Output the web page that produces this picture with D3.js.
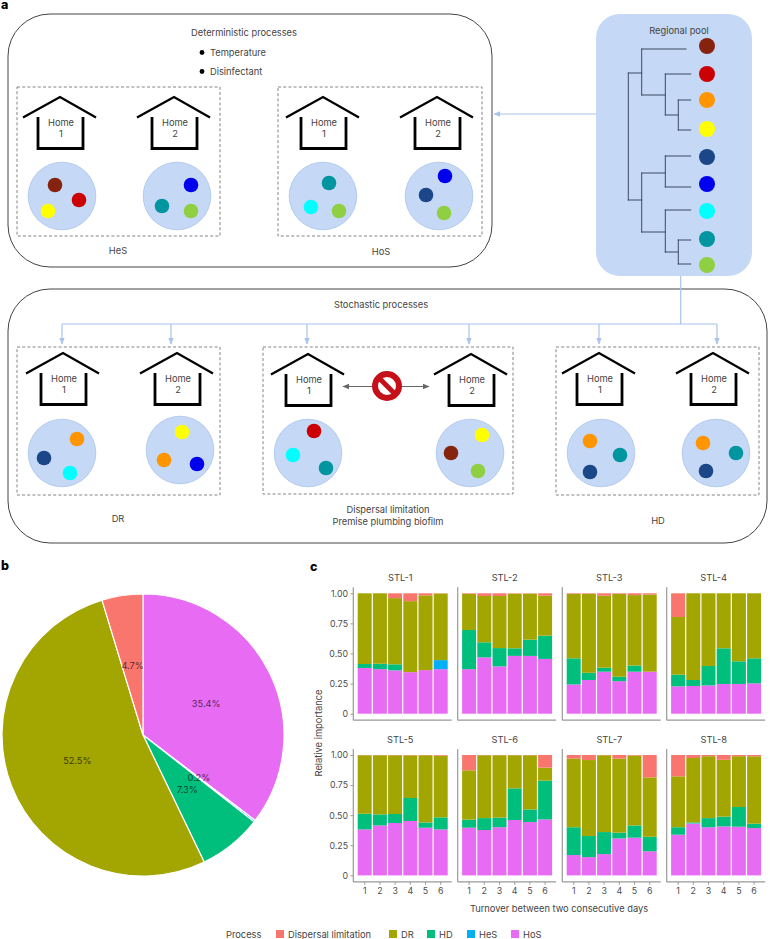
<!DOCTYPE html>
<html>
<head>
<meta charset="utf-8">
<script src="https://cdn.jsdelivr.net/npm/d3@7/dist/d3.min.js"></script>
<style>
html,body{margin:0;padding:0;background:#fff}
svg{display:block}
text{font-family:Inter,"Noto Sans",sans-serif}
</style>
</head>
<body>
<svg id="c" width="770" height="939"></svg>
<script>
// ---------- data ----------
const processes = ["Dispersal limitation","DR","HD","HeS","HoS"];
const processColors = ["#F8766D","#A3A500","#00BF7D","#00B0F6","#E76BF3"];
const pieOrder = ["HoS","HeS","HD","DR","Dispersal limitation"];
const pieValues = [35.4,0.2,7.3,52.5,4.7];
const panels = ["STL-1","STL-2","STL-3","STL-4","STL-5","STL-6","STL-7","STL-8"];
const days = ["1","2","3","4","5","6"];
const yTickValues = [0,0.25,0.5,0.75,1];
const yTickLabels = ["0","0.25","0.50","0.75","1.00"];
const hos = [
 [.38,.37,.36,.345,.362,.37],[.37,.468,.393,.48,.48,.455],
 [.243,.28,.349,.27,.349,.349],[.227,.23,.235,.247,.247,.252],
 [.382,.415,.435,.452,.396,.382],[.396,.377,.40,.46,.443,.465],
 [.169,.152,.177,.307,.313,.2],[.338,.43,.40,.407,.404,.393]];
const hes = [
 [0,0,0,0,0,.075],[0,0,0,0,0,0],[0,0,0,0,0,0],[0,0,0,0,0,0],
 [0,0,0,0,0,0],[0,0,0,0,0,0],[0,0,0,0,0,0],[0,.003,0,0,0,0]];
const hd = [
 [.033,.045,.05,0,0,0],[.325,.125,.152,.063,.135,.193],
 [.217,.06,.033,.037,.051,0],[.097,.05,.161,.296,.188,.208],
 [.13,.092,.075,.191,.044,.10],[.067,.099,.08,.263,.105,.322],
 [.231,.175,.183,.048,.102,.121],[.062,.007,.076,.081,.164,.037]];
const dr = [
 [.587,.585,.55,.59,.621,.553],[.30,.385,.433,.454,.382,.332],
 [.535,.655,.598,.688,.585,.641],[.479,.72,.604,.457,.565,.54],
 [.486,.491,.488,.354,.558,.513],[.41,.522,.518,.275,.45,.108],
 [.57,.631,.638,.615,.58,.493],[.423,.535,.514,.472,.422,.559]];
const dl = [
 [0,0,.04,.065,.017,.002],[.005,.022,.022,.003,.003,.02],
 [.005,.005,.02,.005,.015,.01],[.197,0,0,0,0,0],
 [.002,.002,.002,.003,.002,.005],[.127,.002,.002,.002,.002,.105],
 [.03,.042,.002,.03,.005,.186],[.177,.025,.01,.04,.01,.011]];

// schematic content
const taxa = {brown:"#86230f",red:"#cc0000",orange:"#ff9500",yellow:"#ffff00",navy:"#1b4687",blue:"#0000ee",cyan:"#00ffff",teal:"#00959f",green:"#8fd043"};
const poolOrder = ["brown","red","orange","yellow","navy","blue","cyan","teal","green"];
const poolY = [46,74,100,129,157,184,211,239,265];
const homeLabels = ["1","2"];
// [apexX, apexY, label, circleX, circleY, dots[[taxon,x,y]...]]
const homes = [
 [60,97,0,62,196,[["brown",55,185],["red",79,200],["yellow",48,211]]],
 [174,97,1,177,196,[["blue",191,185],["teal",162,206],["green",191,211]]],
 [323,97,0,323,196,[["teal",329,183],["cyan",311,207],["green",339,211]]],
 [437,97,1,439,196,[["blue",445,176],["navy",426,195],["green",444,213]]],
 [63,353,0,62,453,[["orange",77,439],["navy",44,458],["cyan",70,473]]],
 [177,353,1,180,450,[["yellow",182,432],["orange",164,460],["blue",197,464]]],
 [308,354,0,308,453,[["red",314,431],["cyan",293,455],["teal",326,468]]],
 [471,354,1,470,453,[["yellow",482,435],["brown",451,453],["green",478,471]]],
 [599,353,0,601,453,[["orange",590,441],["teal",620,455],["navy",590,472]]],
 [713,353,1,716,453,[["orange",703,443],["teal",736,453],["navy",706,471]]]
];
const dashedBoxes = [[17,87,203,149],[278,87,204,149],[17,347,203,148],[263,347,250,147],[556,347,203,148]];
const dropX = [62,171,307,469,599,717];
const treeSegs = [
 [628.3,73,628.3,200],[628.3,73,641.7,73],[628.3,200,641.7,200],
 [641.7,49,641.7,95],[641.7,49,686,49],[641.7,95,665.3,95],
 [665.3,74,665.3,115],[665.3,74,690.7,74],[665.3,115,678.3,115],
 [678.3,100,678.3,130],[678.3,100,690.7,100],[678.3,130,690.7,130],
 [641.7,173,641.7,232],[641.7,173,665.3,173],[641.7,232,665.3,232],
 [665.3,156,665.3,187],[665.3,156,690.7,156],[665.3,187,690.7,187],
 [665.3,210,665.3,252],[665.3,210,690.7,210],[665.3,252,678.3,252],
 [678.3,240,678.3,264],[678.3,240,690.7,240],[678.3,264,690.7,264]
];
const captions = [
 ["Deterministic processes",244,36],["HeS",118,254],["HoS",381,255],["Regional pool",679,34],
 ["Stochastic processes",381,308],["DR",118,522],["Dispersal limitation",388,513],
 ["Premise plumbing biofilm",388,525],["HD",658,524]
];
const bullets = [["Temperature",52],["Disinfectant",71]];

// ---------- drawing ----------
const svg = d3.select("#c");
const color = d3.scaleOrdinal(processes, processColors);
const ink = "#444";
const BLUE = "#a9c4ea", PALE = "#c5d8f5";

// panel letters
[["a",1,9],["b",1,570],["c",310,571]].forEach(([t,x,y])=>
  svg.append("text").attr("x",x).attr("y",y).attr("font-size",12.5).attr("font-weight",800).attr("fill","#000").text(t));

// --- panel a ---
const a = svg.append("g");
a.append("rect").attr("x",8).attr("y",14).attr("width",484).attr("height",253).attr("rx",42)
  .attr("fill","#fff").attr("stroke","#444").attr("stroke-width",1);
a.append("rect").attr("x",8).attr("y",289).attr("width",759).attr("height",254).attr("rx",42)
  .attr("fill","#fff").attr("stroke","#444").attr("stroke-width",1);

dashedBoxes.forEach(([x,y,w,h])=>a.append("rect").attr("x",x).attr("y",y).attr("width",w).attr("height",h)
  .attr("fill","none").attr("stroke","#777").attr("stroke-width",.9).attr("stroke-dasharray","3 2.2"));

const defs = svg.append("defs");
function marker(id,col,size){
  defs.append("marker").attr("id",id).attr("viewBox","0 0 6 6").attr("refX",5.5).attr("refY",3)
    .attr("markerWidth",size).attr("markerHeight",size).attr("markerUnits","userSpaceOnUse").attr("orient","auto-start-reverse")
    .append("path").attr("d","M0,0.6L6,3L0,5.4Z").attr("fill",col);
}
marker("ab",BLUE,7); marker("ag","#666",7);

// regional pool
a.append("rect").attr("x",596).attr("y",14).attr("width",156).attr("height",262).attr("rx",24).attr("fill",PALE);
a.selectAll(".tree").data(treeSegs).join("line")
  .attr("x1",d=>d[0]).attr("y1",d=>d[1]).attr("x2",d=>d[2]).attr("y2",d=>d[3])
  .attr("stroke","#3b4a60").attr("stroke-width",1).attr("stroke-linecap","square");
a.selectAll(".pool").data(poolOrder).join("circle")
  .attr("cx",707).attr("cy",(d,i)=>poolY[i]).attr("r",8).attr("fill",d=>taxa[d]);

// connectors
const blueLine=(x1,y1,x2,y2,arrow)=>{const l=a.append("line").attr("x1",x1).attr("y1",y1).attr("x2",x2).attr("y2",y2)
  .attr("stroke",BLUE).attr("stroke-width",1.2); if(arrow) l.attr("marker-end","url(#ab)");};
blueLine(596,114,494,114,true);
blueLine(680.7,276,680.7,324);
blueLine(62,324,717,324);
dropX.forEach(x=>blueLine(x,324,x,344,true));

// homes
homes.forEach(([x,y,lab,cx,cy,dots])=>{
  a.append("path").attr("d",`M${x-37},${y+20.5}L${x},${y}L${x+36},${y+20.5}`)
    .attr("fill","none").attr("stroke","#000").attr("stroke-width",2.3).attr("stroke-linejoin","miter");
  a.append("path").attr("d",`M${x-22},${y+20}V${y+51.5}H${x+23}V${y+20}`)
    .attr("fill","none").attr("stroke","#000").attr("stroke-width",2.8);
  a.append("text").attr("x",x+1).attr("y",y+28.5).attr("text-anchor","middle").attr("font-size",9.3).attr("fill",ink).text("Home");
  a.append("text").attr("x",x+1).attr("y",y+40).attr("text-anchor","middle").attr("font-size",9.3).attr("fill",ink).text(homeLabels[lab]);
  a.append("circle").attr("cx",cx).attr("cy",cy).attr("r",33.8).attr("fill",PALE).attr("stroke",BLUE).attr("stroke-width",.8);
  dots.forEach(([t,dx,dy])=>a.append("circle").attr("cx",dx).attr("cy",dy).attr("r",7.3).attr("fill",taxa[t]));
});

// captions
captions.forEach(([t,x,y])=>a.append("text").attr("x",x).attr("y",y).attr("text-anchor","middle").attr("font-size",9.3).attr("fill",ink).text(t));
bullets.forEach(([t,y])=>{
  a.append("circle").attr("cx",202).attr("cy",y+.5).attr("r",2.4).attr("fill","#000");
  a.append("text").attr("x",210).attr("y",y+3.5).attr("font-size",9.3).attr("fill",ink).text(t);
});

// blocked arrow
a.append("line").attr("x1",343).attr("y1",386.5).attr("x2",429).attr("y2",386.5)
  .attr("stroke","#666").attr("stroke-width",1.2).attr("marker-start","url(#ag)").attr("marker-end","url(#ag)");
a.append("circle").attr("cx",387).attr("cy",386).attr("r",12).attr("fill","#fff").attr("stroke","#c5101a").attr("stroke-width",6);
a.append("line").attr("x1",379).attr("y1",378).attr("x2",395).attr("y2",394).attr("stroke","#c5101a").attr("stroke-width",5);

// --- panel b ---
const pieColor = pieOrder.map(p=>color(p));
const R = 141;
const pie = d3.pie().sort(null).value(d=>d)(pieValues);
const arc = d3.arc().innerRadius(0).outerRadius(R);
const gb = svg.append("g").attr("transform","translate(143,735)");
gb.selectAll("path").data(pie).join("path").attr("d",arc)
  .attr("fill",(d,i)=>pieColor[i]).attr("stroke","#fff").attr("stroke-width",1.2);
gb.selectAll("text").data(pie).join("text")
  .attr("transform",d=>`translate(${arc.centroid(d)})`)
  .attr("text-anchor","middle").attr("dy","0.35em").attr("font-size",9.2).attr("fill","#000").attr("fill-opacity",.68)
  .text(d=>d.value.toFixed(1)+"%");

// --- panel c ---
const panelLeft = [353.3,457.7,562.3,666.7];
const rowTop = [593.3,755];
const plotH = 120.4, axisGap = 6.5, GREY="#999", TICK="#4d4d4d";
const stackKeys = ["HoS","HeS","HD","DR","Dispersal limitation"];
const seriesByKey = {"HoS":hos,"HeS":hes,"HD":hd,"DR":dr,"Dispersal limitation":dl};

panels.forEach((name,p)=>{
  const col = p%4, row = Math.floor(p/4);
  const left = panelLeft[col], top = rowTop[row];
  const x = d3.scaleBand().domain(days).range([left+3.8,left+95]).paddingInner(.08).paddingOuter(.04);
  const y = d3.scaleLinear().domain([0,1]).range([top+plotH,top]);
  const rows = days.map((d,i)=>{const o={day:d}; stackKeys.forEach(k=>o[k]=seriesByKey[k][p][i]); return o;});
  const stacked = d3.stack().keys(stackKeys)(rows);
  const g = svg.append("g");
  g.selectAll("g").data(stacked).join("g").attr("fill",s=>color(s.key))
    .selectAll("rect").data(s=>s).join("rect")
    .attr("x",d=>x(d.data.day)).attr("width",x.bandwidth())
    .attr("y",d=>y(d[1])).attr("height",d=>Math.max(0,y(d[0])-y(d[1])));
  // axis lines
  const base = top+plotH+axisGap;
  g.append("line").attr("x1",left).attr("x2",left).attr("y1",top-6).attr("y2",base).attr("stroke",GREY).attr("stroke-width",1.2);
  g.append("line").attr("x1",left).attr("x2",left+98.4).attr("y1",base).attr("y2",base).attr("stroke",GREY).attr("stroke-width",1.2);
  if(col===0){
    const ay = g.append("g").attr("transform",`translate(${left},0)`)
      .call(d3.axisLeft(y).tickValues(yTickValues).tickFormat((d,i)=>yTickLabels[i]).tickSize(2.8).tickPadding(2.5));
    ay.select(".domain").remove();
    ay.selectAll("line").attr("stroke",GREY);
    ay.selectAll("text").attr("font-size",8.8).attr("fill",TICK).style("font-family","Inter");
  }
  if(row===1){
    const ax = g.append("g").attr("transform",`translate(0,${base})`)
      .call(d3.axisBottom(x).tickSize(2.8).tickPadding(3.5));
    ax.select(".domain").remove();
    ax.selectAll("line").attr("stroke",GREY);
    ax.selectAll("text").attr("font-size",8.8).attr("fill",TICK).style("font-family","Inter");
  }
  g.append("text").attr("x",left+47).attr("y",top-12).attr("text-anchor","middle").attr("font-size",9.3).attr("fill","#444").text(name);
});

svg.append("text").attr("transform","translate(322,733) rotate(-90)").attr("text-anchor","middle").attr("font-size",9.3).attr("fill","#444").text("Relative importance");
svg.append("text").attr("x",559).attr("y",912).attr("text-anchor","middle").attr("font-size",9.3).attr("fill","#444").text("Turnover between two consecutive days");

// legend
const legendX = [276,389,427,467,511];
svg.append("text").attr("x",226).attr("y",937.5).attr("font-size",9.3).attr("fill","#444").text("Process");
processes.forEach((p,i)=>{
  svg.append("rect").attr("x",legendX[i]).attr("y",930).attr("width",8).attr("height",8).attr("fill",color(p));
  svg.append("text").attr("x",legendX[i]+12).attr("y",937.5).attr("font-size",9.3).attr("fill","#444").text(p);
});
</script>
</body>
</html>
